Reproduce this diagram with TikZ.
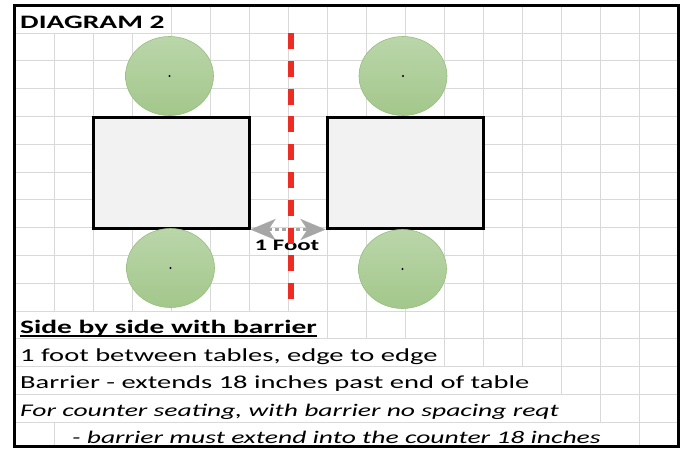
\documentclass[tikz,border=0pt]{standalone}
\usepackage{fontspec}
\setmainfont{Carlito}[FakeStretch=1.55]
\usepackage{tikz}
\usetikzlibrary{positioning,arrows.meta,shapes.geometric}
\definecolor{Cgrid}{RGB}{217,217,217}
\definecolor{Cdesk}{RGB}{242,242,242}
\definecolor{Cseattop}{RGB}{186,214,170}
\definecolor{Cseatbot}{RGB}{163,199,139}
\definecolor{Cseatrim}{RGB}{150,190,125}
\definecolor{Cbarrier}{RGB}{237,45,36}
\definecolor{Cgap}{RGB}{166,166,166}

\begin{document}
\begin{tikzpicture}[x=1pt, y=-1pt,
      gridline/.style={draw=Cgrid, line width=1pt},
      desk/.style={draw=black, fill=Cdesk, line width=3pt, inner sep=0pt,
                   minimum width=156pt, minimum height=111pt},
      seat/.style={ellipse, draw=Cseatrim, line width=0.6pt,
                   top color=Cseattop, bottom color=Cseatbot,
                   minimum width=88pt, minimum height=79pt, inner sep=0pt},
      txt/.style={anchor=base west, inner sep=0pt,
                  font=\fontsize{18.4}{20}\selectfont},
      note/.style={txt, font=\fontsize{17.8}{20}\selectfont\itshape},
      barrier/.style={draw=Cbarrier, line width=6pt,
                      dash pattern=on 16pt off 11.8pt},
      gap/.style={draw=Cgap, line width=3.5pt, dash pattern=on 4pt off 3pt,
                  {Stealth[length=25pt,width=21pt,inset=7pt,line width=0.1pt]}-{Stealth[length=25pt,width=21pt,inset=7pt,line width=0.1pt]}}]
    \useasboundingbox (0,0) rectangle (683,450);
    \fill[white] (0,0) rectangle (683,450);
    % Grid
    \foreach \x in {54,93,...,678}
      \draw[gridline] (\x,5) -- (\x,446);
    \fill[white] (15,5) rectangle (170.5,32.5);
    \fill[white] (15,311.5) rectangle (326.5,338.3);
    \fill[white] (15,339.3) rectangle (443.5,366.1);
    \fill[white] (15,367.1) rectangle (560.5,393.9);
    \fill[white] (15,394.9) rectangle (599.5,421.7);
    \fill[white] (54.5,422.7) rectangle (638.5,446);
    \foreach \y in {33,60.8,...,423}
      \draw[gridline] (15,\y) -- (678,\y);
    % Tables
    \node[desk] (deskL) at (171,172.5) {};
    \node[desk] (deskR) at (405,172.5) {};
    % Seats
    \node[seat] (seatLT) at (169.5,76)  {};
    \node[seat] (seatRT) at (403,76)    {};
    \node[seat] (seatLB) at (170.5,268) {};
    \node[seat] (seatRB) at (402.5,269) {};
    \foreach \s in {seatLT,seatRT,seatLB,seatRB}
      \fill[black] (\s.center) circle (1.2pt);
    % Gap between tables
    \draw[gap] (deskL.south east) -- (deskR.south west);
    \node[txt, anchor=base, font=\fontsize{16}{18}\selectfont\bfseries]
      (footlbl) at (287,250) {1 Foot};
    % Barrier
    \coordinate (bartop) at (291,33);
    \coordinate (barbot) at (291,307);
    \draw[barrier] (bartop) -- (barbot);
    % Texts
    \node[txt, font=\fontsize{19}{20}\selectfont\bfseries] (title) at (20,28) {DIAGRAM 2};
    \node[txt, font=\fontsize{19}{20}\selectfont\bfseries] (head)  at (20,333) {Side by side with barrier};
    \draw[line width=1.6pt] ([yshift=-3pt]head.base west) -- ([yshift=-3pt]head.base east);
    \node[txt] (rule1) at (20,361)   {1 foot between tables, edge to edge};
    \node[txt] (rule2) at (20,388.5) {Barrier - extends 18 inches past end of table};
    \node[note] (note1) at (20,416)   {For counter seating, with barrier no spacing reqt};
    \node[note] (note2) at (72,443.5) {- barrier must extend into the counter 18 inches};
    % Frame
    \draw[line width=3pt] (14,5) rectangle (678,446);
\end{tikzpicture}
\end{document}
